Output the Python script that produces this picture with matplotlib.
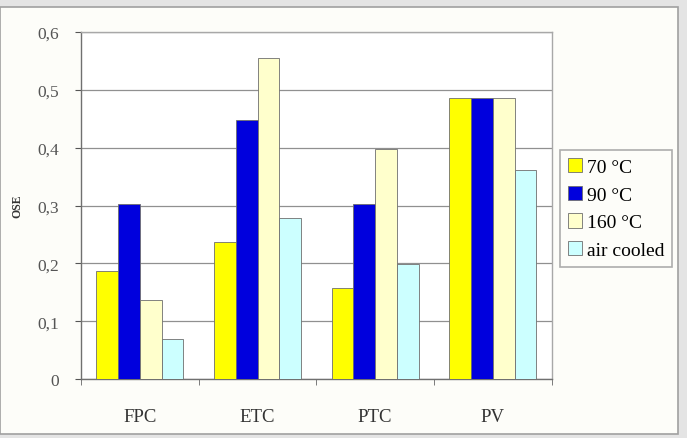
import matplotlib.pyplot as plt
import matplotlib.patches as mpatches
import matplotlib.ticker as mticker
import numpy as np

categories = ['FPC', 'ETC', 'PTC', 'PV']
series_names = ['70 °C', '90 °C', '160 °C', 'air cooled']
ose_70 = [0.187, 0.237, 0.157, 0.486]
ose_90 = [0.303, 0.448, 0.303, 0.486]
ose_160 = [0.137, 0.555, 0.398, 0.486]
ose_air = [0.069, 0.279, 0.199, 0.362]
colors = ['#ffff00', '#0000dd', '#ffffcc', '#ccffff']

plt.rcParams['font.family'] = ['Liberation Serif', 'DejaVu Serif']

fig = plt.figure(figsize=(6.87, 4.39), dpi=100)
fig.patch.set_facecolor('#e4e4e4')

# chart area panel, kept behind the axes
panel = mpatches.Rectangle((0, 0.009), 0.987, 0.972, transform=fig.transFigure,
                           facecolor='#fdfdf9', edgecolor='#a0a0a0', lw=1.2, zorder=-10)
fig.patches.append(panel)

ax = fig.add_axes([0.118, 0.134, 0.685, 0.791])
ax.set_facecolor('white')
ax.set_zorder(1)

x = np.arange(len(categories))
w = 0.185
for i, vals in enumerate([ose_70, ose_90, ose_160, ose_air]):
    ax.bar(x + (i - 1.5) * w, vals, w, color=colors[i], edgecolor='#6e6e6e',
           linewidth=0.6, label=series_names[i], zorder=3)

ax.set_xlim(-0.5, 3.5)
ax.set_ylim(0, 0.6)
ax.set_yticks(np.arange(0, 0.61, 0.1))
ax.yaxis.set_major_formatter(mticker.FuncFormatter(
    lambda v, p: '0' if abs(v) < 1e-9 else ('%.1f' % v).replace('.', ',')))
ax.set_xticks(x)
ax.set_xticklabels(categories)
ax.set_xticks(np.arange(-0.5, 3.6, 1), minor=True)
ax.tick_params(axis='x', which='major', length=0, pad=21, labelsize=13.5, colors='#333333')
ax.tick_params(axis='x', which='minor', length=4, direction='out', color='#666666')
ax.tick_params(axis='y', length=4, direction='out', labelsize=12.5, colors='#555555', pad=12)
ax.grid(axis='y', color='#909090', lw=0.9, zorder=1)
for s in ['top', 'right']:
    ax.spines[s].set_color('#a8a8a8')
    ax.spines[s].set_linewidth(1.0)
for s in ['left', 'bottom']:
    ax.spines[s].set_color('#707070')
    ax.spines[s].set_linewidth(1.0)

ax.set_ylabel('OSE', fontsize=8.5, fontweight='bold', labelpad=10, color='#333333')

leg = fig.legend(loc='upper left', bbox_to_anchor=(0.815, 0.655), fontsize=14,
                 frameon=True, fancybox=False, edgecolor='#999999', handlelength=0.75,
                 handleheight=0.75, handletextpad=0.25, labelspacing=0.5,
                 borderpad=0.4, borderaxespad=0)
leg.get_frame().set_linewidth(1.2)
leg.get_frame().set_facecolor('#fdfdf9')

fig.savefig('out.png', dpi=100, facecolor=fig.get_facecolor())
